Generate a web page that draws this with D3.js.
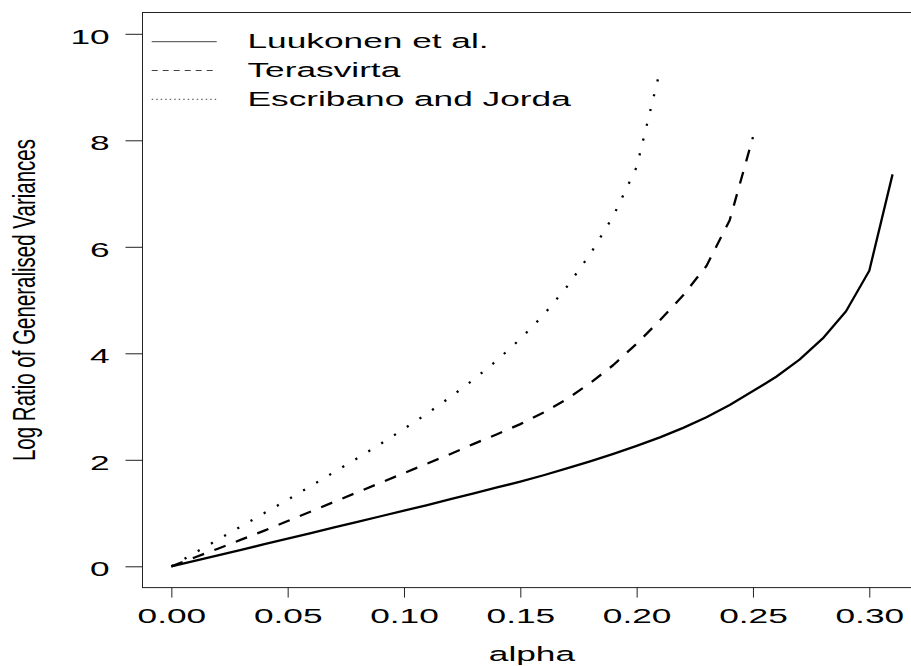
<!DOCTYPE html>
<html>
<head>
<meta charset="utf-8">
<script src="https://cdn.jsdelivr.net/npm/d3@7"></script>
<style>
  html, body { margin: 0; padding: 0; background: #fff; }
  svg { display: block; }
  text { font-family: "Liberation Sans", Arial, Helvetica, sans-serif; fill: #000; }
</style>
</head>
<body>
<svg id="chart" width="911" height="666"></svg>
<script>
// ---- data ----
const alphaLuukonen = [0,0.01,0.02,0.03,0.04,0.05,0.06,0.07,0.08,0.09,0.10,0.11,0.12,0.13,0.14,0.15,0.16,0.17,0.18,0.19,0.20,0.21,0.22,0.23,0.24,0.25,0.26,0.27,0.28,0.29,0.30,0.31];
const valuesLuukonen = [0,0.10,0.205,0.31,0.415,0.52,0.625,0.73,0.835,0.94,1.045,1.15,1.26,1.37,1.48,1.59,1.71,1.84,1.97,2.11,2.26,2.42,2.60,2.80,3.03,3.29,3.56,3.88,4.28,4.79,5.55,7.36];

const alphaTerasvirta = [0,0.01,0.02,0.03,0.04,0.05,0.06,0.07,0.08,0.09,0.10,0.11,0.12,0.13,0.14,0.15,0.16,0.17,0.18,0.19,0.20,0.21,0.22,0.23,0.24,0.25];
const valuesTerasvirta = [0,0.165,0.33,0.50,0.67,0.85,1.03,1.21,1.39,1.57,1.75,1.93,2.11,2.30,2.48,2.67,2.89,3.14,3.44,3.78,4.18,4.62,5.09,5.64,6.50,8.06];

const alphaEscribano = [0,0.01,0.02,0.03,0.04,0.05,0.06,0.07,0.08,0.09,0.10,0.11,0.12,0.13,0.14,0.15,0.16,0.17,0.18,0.19,0.20,0.21];
const valuesEscribano = [0,0.25,0.50,0.75,1.00,1.25,1.51,1.77,2.03,2.30,2.58,2.87,3.18,3.51,3.87,4.27,4.72,5.25,5.86,6.58,7.50,9.30];

const seriesNames = ["Luukonen et al.", "Terasvirta", "Escribano and Jorda"];
const xTicks = [0, 0.05, 0.10, 0.15, 0.20, 0.25, 0.30];
const xTickLabels = ["0.00", "0.05", "0.10", "0.15", "0.20", "0.25", "0.30"];
const yTicks = [0, 2, 4, 6, 8, 10];
const yTickLabels = ["0", "2", "4", "6", "8", "10"];
const xTitle = "alpha";
const yTitle = "Log Ratio of Generalised Variances";

// ---- layout ----
const SX = 1.72;          // horizontal stretch of the original device
const FS = 20.5;
const plotLeft = 142.5, plotRight = 921.4, plotTop = 12.5, plotBottom = 587.6;

const svg = d3.select("#chart");
const x = d3.scaleLinear().domain([-0.0124, 0.3224]).range([plotLeft, plotRight]);
const y = d3.scaleLinear().domain([-0.4, 10.4]).range([plotBottom, plotTop]);

// box
svg.append("rect")
  .attr("x", plotLeft).attr("y", plotTop)
  .attr("width", plotRight - plotLeft).attr("height", plotBottom - plotTop)
  .attr("fill", "none").attr("stroke", "#222").attr("stroke-width", 1);

// x axis
const gx = svg.append("g")
  .attr("transform", `translate(0,${plotBottom})`)
  .call(d3.axisBottom(x).tickValues(xTicks)
        .tickFormat((d, i) => xTickLabels[i]).tickSize(10).tickSizeOuter(0));
gx.select(".domain").remove();
gx.selectAll(".tick line").attr("stroke", "#222");
gx.selectAll(".tick text")
  .attr("y", 0).attr("dy", null)
  .attr("transform", `translate(0,35.8) scale(${SX},1)`)
  .style("font-size", FS + "px");

// y axis
const gy = svg.append("g")
  .attr("transform", `translate(${plotLeft},0)`)
  .call(d3.axisLeft(y).tickValues(yTicks)
        .tickFormat((d, i) => yTickLabels[i]).tickSize(17).tickSizeOuter(0));
gy.select(".domain").remove();
gy.selectAll(".tick line").attr("stroke", "#222");
gy.selectAll(".tick text")
  .attr("x", 0).attr("dy", null).attr("y", 0)
  .attr("text-anchor", "end")
  .attr("transform", `translate(-32.8,9.5) scale(${SX},1)`)
  .style("font-size", FS + "px");

// titles
svg.append("text")
  .attr("transform", `translate(${(plotLeft + plotRight) / 2},660.5) scale(${SX},1)`)
  .attr("text-anchor", "middle")
  .style("font-size", FS + "px")
  .text(xTitle);

svg.append("text")
  .attr("transform", `translate(35,${(plotTop + plotBottom) / 2}) scale(1.5,1) rotate(-90)`)
  .attr("text-anchor", "middle")
  .style("font-size", FS + "px")
  .text(yTitle);

// lines
const lineGen = d3.line().x(d => x(d[0])).y(d => y(d[1]));
const series = [
  { a: alphaLuukonen, v: valuesLuukonen, dash: null },
  { a: alphaTerasvirta, v: valuesTerasvirta, dash: "12,11" },
  { a: alphaEscribano, v: valuesEscribano, dash: "2.2,13" }
];
series.forEach(s => {
  const pts = s.a.map((a, i) => [a, s.v[i]]);
  svg.append("path")
    .datum(pts)
    .attr("d", lineGen)
    .attr("fill", "none")
    .attr("stroke", "#000")
    .attr("stroke-width", 2.3)
    .attr("stroke-linejoin", "round")
    .attr("stroke-dasharray", s.dash);
});

// legend
const legendDash = [null, "6,5", "1.5,3"];
const legendRowY = [41.7, 70.5, 99.3];
const legendBaseline = [48.3, 77.1, 105.9];
seriesNames.forEach((name, i) => {
  svg.append("line")
    .attr("x1", 151.7).attr("x2", 216.7)
    .attr("y1", legendRowY[i]).attr("y2", legendRowY[i])
    .attr("stroke", "#444").attr("stroke-width", 1)
    .attr("stroke-dasharray", legendDash[i]);
  svg.append("text")
    .attr("transform", `translate(247.5,${legendBaseline[i]}) scale(${SX},1)`)
    .style("font-size", FS + "px")
    .text(name);
});
</script>
</body>
</html>
